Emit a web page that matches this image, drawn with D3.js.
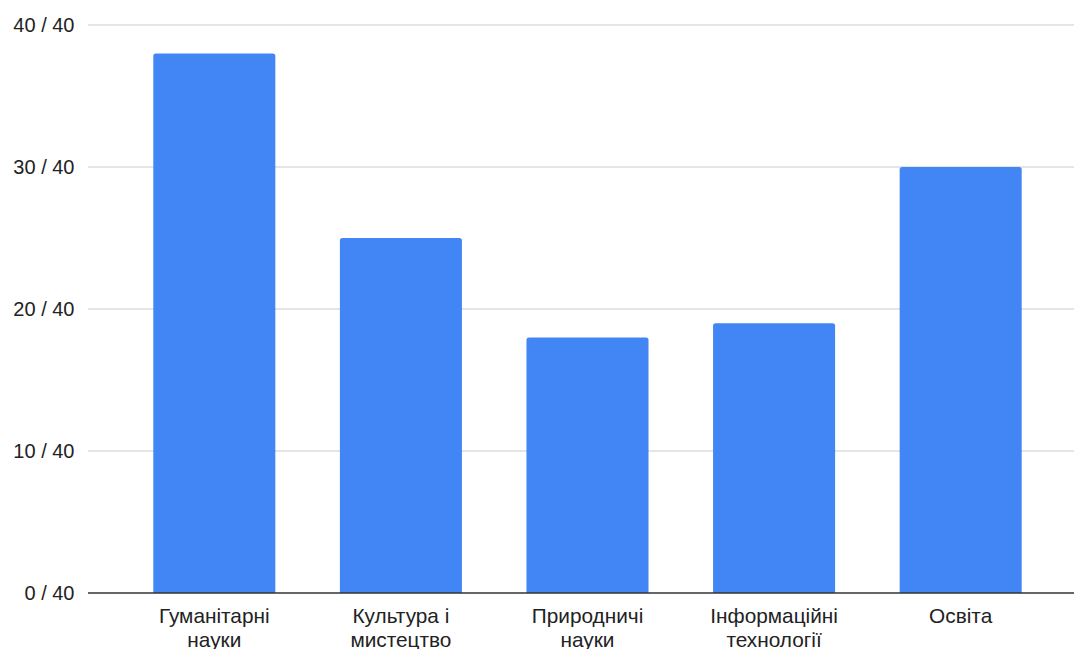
<!DOCTYPE html>
<html>
<head>
<meta charset="utf-8">
<script src="https://cdn.jsdelivr.net/npm/d3@7"></script>
<style>
  html, body { margin: 0; padding: 0; background: #fff; }
  svg { display: block; font-family: "Liberation Sans", Arial, sans-serif; }
</style>
</head>
<body>
<svg id="chart" width="1074" height="649"></svg>
<script>
// Scores per field of study, out of a maximum of 40
const categories = ["Гуманітарні науки", "Культура і мистецтво", "Природничі науки", "Інформаційні технології", "Освіта"];
const scores = [38, 25, 18, 19, 30];
const maxScore = 40;
const yTicks = [0, 10, 20, 30, 40];

const svg = d3.select("#chart");
const plotLeft = 88, plotRight = 1087, plotTop = 25, plotBottom = 593;

const x = d3.scaleBand()
  .domain(categories)
  .range([plotLeft, plotRight])
  .paddingInner(0.346)
  .paddingOuter(0.35);

const y = d3.scaleLinear().domain([0, maxScore]).range([plotBottom, plotTop]);

// Horizontal gridlines
svg.append("g")
  .selectAll("line")
  .data(yTicks.filter(t => t !== 0))
  .join("line")
  .attr("x1", plotLeft).attr("x2", plotRight)
  .attr("y1", d => y(d)).attr("y2", d => y(d))
  .attr("stroke", "#cccccc")
  .attr("stroke-width", 1.2);

// Y tick labels
svg.append("g")
  .selectAll("text")
  .data(yTicks)
  .join("text")
  .attr("x", 74.5)
  .attr("y", d => y(d))
  .attr("dy", "0.35em")
  .attr("text-anchor", "end")
  .attr("font-size", 20)
  .attr("fill", "#222")
  .text(d => `${d} / ${maxScore}`);

// Bars with slightly rounded top corners
const r = 2.5;
svg.append("g")
  .selectAll("path")
  .data(categories.map((c, i) => ({ c, v: scores[i] })))
  .join("path")
  .attr("fill", "#4285f4")
  .attr("d", d => {
    const x0 = x(d.c), w = x.bandwidth(), y0 = y(d.v), y1 = y(0);
    return `M${x0},${y1}V${y0 + r}Q${x0},${y0} ${x0 + r},${y0}H${x0 + w - r}Q${x0 + w},${y0} ${x0 + w},${y0 + r}V${y1}Z`;
  });

// Baseline
svg.append("line")
  .attr("x1", plotLeft).attr("x2", plotRight)
  .attr("y1", y(0)).attr("y2", y(0))
  .attr("stroke", "#333")
  .attr("stroke-width", 1.6);

// Category labels, wrapped to fit the band
const labels = svg.append("g")
  .selectAll("text")
  .data(categories)
  .join("text")
  .attr("x", d => x(d) + x.bandwidth() / 2)
  .attr("y", 622.5)
  .attr("text-anchor", "middle")
  .attr("font-size", 20.8)
  .attr("fill", "#222");

labels.each(function(d) {
  const t = d3.select(this);
  const words = d.split(" ");
  const lines = [];
  let cur = [];
  const probe = t.append("tspan");
  words.forEach(w => {
    const trial = cur.concat(w).join(" ");
    probe.text(trial);
    if (probe.node().getComputedTextLength() > 145 && cur.length) {
      lines.push(cur.join(" "));
      cur = [w];
    } else {
      cur.push(w);
    }
  });
  lines.push(cur.join(" "));
  probe.remove();
  lines.forEach((ln, i) => {
    t.append("tspan")
      .attr("x", x(d) + x.bandwidth() / 2)
      .attr("dy", i === 0 ? 0 : 24.5)
      .text(ln);
  });
});
</script>
</body>
</html>
